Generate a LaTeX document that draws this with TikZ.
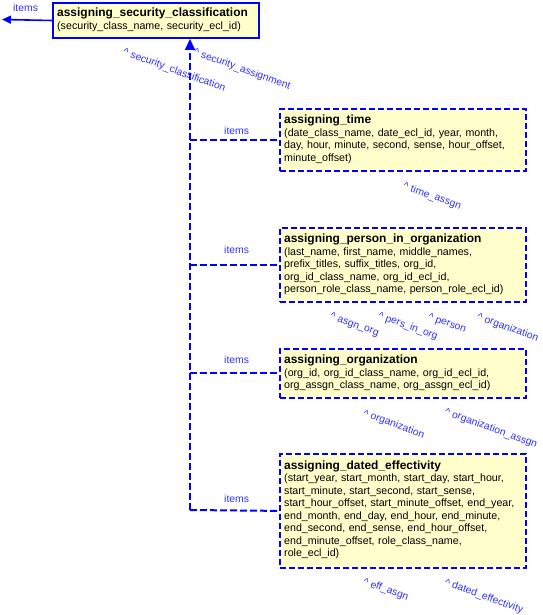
\documentclass[tikz,border=0pt]{standalone}
\usepackage{fontspec}
\setmainfont{Liberation Sans}
\usetikzlibrary{arrows.meta}
\definecolor{lnblue}{RGB}{0,0,255}
\definecolor{lbblue}{RGB}{48,48,255}
\definecolor{boxfill}{RGB}{255,255,204}
\newcommand\enttitle[1]{{\fontsize{12}{13}\selectfont\bfseries #1\par}}
\begin{document}
\begin{tikzpicture}[x=1bp,y=-1bp,
  ent/.style={draw=lnblue, fill=boxfill, line width=1.8bp, dash pattern=on 6bp off 3bp,
    rectangle, anchor=north west, inner sep=0pt, minimum width=246bp},
  mainent/.style={ent, solid, line width=2bp},
  etext/.style={anchor=base west, align=left, inner sep=0pt, text width=280bp,
    font=\fontsize{10.7}{12.6}\selectfont},
  lbl/.style={text=lbblue, font=\fontsize{10.4}{12}\selectfont, inner sep=0pt, anchor=base west},
  rlbl/.style={lbl, rotate=-20},
  conn/.style={draw=lnblue, line width=2bp, dash pattern=on 7bp off 3bp},
]
\useasboundingbox (0,0) rectangle (543,615);

% entity boxes
\node[mainent, minimum width=206bp, minimum height=35bp] (asc) at (52,2) {};
\node[ent, minimum height=62bp] (time) at (279,108) {};
\node[ent, minimum height=74bp] (pio) at (279,227) {};
\node[ent, minimum height=49bp] (org) at (279,348) {};
\node[ent, minimum height=114bp] (de) at (279,453) {};

% texts
\node[etext] (asc-t) at ([xshift=5bp,yshift=-15bp]asc.north west)
  {\enttitle{assigning\_security\_classification}(security\_class\_name, security\_ecl\_id)};
\node[etext] (time-t) at ([xshift=5bp,yshift=-15.5bp]time.north west)
  {\enttitle{assigning\_time}(date\_class\_name, date\_ecl\_id, year, month,\\
   day, hour, minute, second, sense, hour\_offset,\\
   minute\_offset)};
\node[etext] (pio-t) at ([xshift=5bp,yshift=-15.5bp]pio.north west)
  {\enttitle{assigning\_person\_in\_organization}(last\_name, first\_name, middle\_names,\\
   prefix\_titles, suffix\_titles, org\_id,\\
   org\_id\_class\_name, org\_id\_ecl\_id,\\
   person\_role\_class\_name, person\_role\_ecl\_id)};
\node[etext] (org-t) at ([xshift=5bp,yshift=-15.5bp]org.north west)
  {\enttitle{assigning\_organization}(org\_id, org\_id\_class\_name, org\_id\_ecl\_id,\\
   org\_assgn\_class\_name, org\_assgn\_ecl\_id)};
\node[etext] (de-t) at ([xshift=5bp,yshift=-16bp]de.north west)
  {\enttitle{assigning\_dated\_effectivity}(start\_year, start\_month, start\_day, start\_hour,\\
   start\_minute, start\_second, start\_sense,\\
   start\_hour\_offset, start\_minute\_offset, end\_year,\\
   end\_month, end\_day, end\_hour, end\_minute,\\
   end\_second, end\_sense, end\_hour\_offset,\\
   end\_minute\_offset, role\_class\_name,\\
   role\_ecl\_id)};

% connectors
\coordinate (j4) at (190,510);
\coordinate (j1) at (time.west -| j4);
\coordinate (j2) at (pio.west -| j4);
\coordinate (j3) at (org.west -| j4);
\coordinate (itemsL) at (2,19.5);
\draw[conn, -{Triangle[length=11bp,width=10bp]}] (j4) -- (asc.south -| j4);
\draw[conn] (j1) -- (time.west);
\draw[conn] (j2) -- (pio.west);
\draw[conn] (j3) -- (org.west);
\draw[conn] (j4) -- (de.west);
\draw[lnblue, line width=1.6bp, -{Triangle[length=9bp,width=8bp]}] (asc.west) -- (itemsL);

% labels
\node[lbl] (items0) at (13,12) {items};
\node[lbl] (items1) at (224,135) {items};
\node[lbl] (items2) at (224,253) {items};
\node[lbl] (items3) at (224,363) {items};
\node[lbl] (items4) at (224,502) {items};

\node[rlbl] (l-sc) at (122.5,54.6) {\textasciicircum{} security\_classification};
\node[rlbl] (l-sa) at (193,54.6) {\textasciicircum{} security\_assignment};
\node[rlbl] (l-ta) at (402.5,188.6) {\textasciicircum{} time\_assgn};
\node[rlbl] (l-ao) at (329.5,318.6) {\textasciicircum{} asgn\_org};
\node[rlbl] (l-pio) at (377.5,318.3) {\textasciicircum{} pers\_in\_org};
\node[rlbl] (l-pe) at (427.5,319.3) {\textasciicircum{} person};
\node[rlbl] (l-or1) at (476.5,319.3) {\textasciicircum{} organization};
\node[rlbl] (l-or2) at (362.5,416) {\textasciicircum{} organization};
\node[rlbl] (l-oa) at (444,414.3) {\textasciicircum{} organization\_assgn};
\node[rlbl] (l-ea) at (362.5,584.3) {\textasciicircum{} eff\_asgn};
\node[rlbl] (l-def) at (444,585) {\textasciicircum{} dated\_effectivity};
\end{tikzpicture}
\end{document}
